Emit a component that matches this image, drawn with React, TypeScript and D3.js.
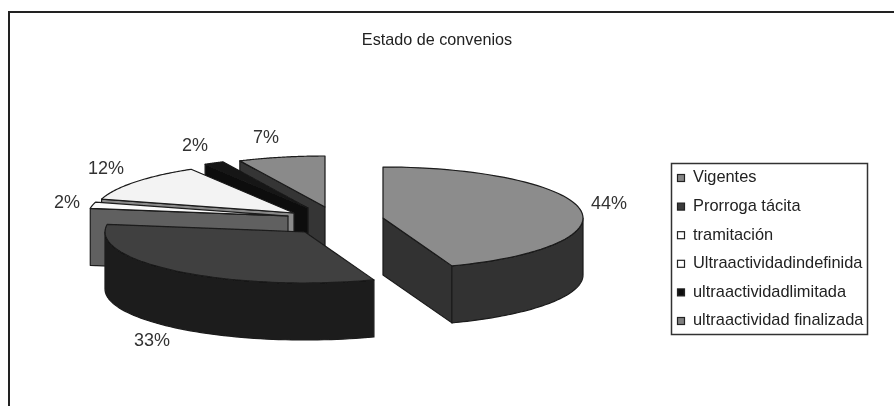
import React from "react";
import * as d3 from "d3";

const categories = ["Vigentes", "Prorroga tácita", "tramitación", "Ultraactividadindefinida", "ultraactividadlimitada", "ultraactividad finalizada"];
const values = [44.4, 33, 2, 12, 1.6, 7];
const pctLabels = ["44%", "33%", "2%", "12%", "2%", "7%"];
const topColors = ["#8c8c8c", "#404040", "#fafafa", "#f3f3f3", "#141414", "#8a8a8a"];
const wallColors = ["#333333", "#1c1c1c", "#606060", "#8a8a8a", "#0a0a0a", "#363636"];
const swatchColors = ["#858585", "#3a3a3a", "#ffffff", "#ffffff", "#111111", "#808080"];
// exploded slice centres
const centreX = [383, 305, 288, 294, 308, 325];
const centreY = [218, 232, 216, 213, 208, 207];
const labelX = [609, 152, 67, 106, 195, 266];
const labelY = [204, 341, 203, 169, 146, 138];

const W = 894, H = 406;
const RX = 200, RY = 51, DEPTH = 57;
const INK = "#1a1a1a";
const FONT = "'Liberation Sans', Arial, sans-serif";

const pie = d3.pie<number>().sort(null).startAngle(0).endAngle(2 * Math.PI);
const arcs = pie(values);

const pt = (i: number, a: number, drop = 0): [number, number] => [
  centreX[i] + RX * Math.sin(a),
  centreY[i] - RY * Math.cos(a) + drop,
];
const rimPts = (i: number, a0: number, a1: number, drop = 0) =>
  d3.range(0, 61).map((k) => pt(i, a0 + ((a1 - a0) * k) / 60, drop));
const line = d3.line<[number, number]>();

function Slice({ i }: { i: number }) {
  const { startAngle: s, endAngle: e } = arcs[i];
  const c: [number, number] = [centreX[i], centreY[i]];
  const cLow: [number, number] = [c[0], c[1] + DEPTH];
  const wall = (a: number) => line([c, pt(i, a), pt(i, a, DEPTH), cLow]) + "Z";
  const f0 = Math.max(s, Math.PI / 2);
  const f1 = Math.min(e, (3 * Math.PI) / 2);
  const common = { stroke: INK, strokeWidth: 1.2, strokeLinejoin: "round" as const };
  return (
    <g>
      {Math.sin(s) < -1e-6 && <path d={wall(s)} fill={wallColors[i]} {...common} />}
      {Math.sin(e) > 1e-6 && <path d={wall(e)} fill={wallColors[i]} {...common} />}
      {f1 > f0 && (
        <path
          d={line([...rimPts(i, f0, f1), ...rimPts(i, f1, f0, DEPTH)]) + "Z"}
          fill={wallColors[i]}
          {...common}
        />
      )}
      <path d={line([c, ...rimPts(i, s, e)]) + "Z"} fill={topColors[i]} {...common} />
    </g>
  );
}

export default function App() {
  const legendY = d3.scalePoint<string>().domain(categories).range([178, 321]);
  return (
    <svg width={W} height={H} style={{ position: "absolute", left: 0, top: 0, background: "#fff" }} fontFamily={FONT}>
      <defs>
        <filter id="soft" x="0" y="0" width="100%" height="100%">
          <feGaussianBlur stdDeviation="0.45" />
        </filter>
      </defs>
      <g filter="url(#soft)">
        <path d={`M8.5 406V11.5H894`} fill="none" stroke="#222" strokeWidth={3} />
        <text x={437} y={41} textAnchor="middle" dominantBaseline="middle" fontSize={16.2} fill="#222">Estado de convenios</text>
        {[5, 4, 3, 2, 1, 0].map((i) => <Slice key={i} i={i} />)}
        {pctLabels.map((t, i) => (
          <text key={t + i} x={labelX[i]} y={labelY[i]} textAnchor="middle" dominantBaseline="middle" fontSize={18} fill="#333">{t}</text>
        ))}
        <rect x={671.5} y={163.5} width={196} height={171} fill="#fff" stroke="#333" strokeWidth={1.5} />
        {categories.map((c, i) => (
          <g key={c}>
            <rect x={677.5} y={legendY(c)! - 3.5} width={7} height={7} fill={swatchColors[i]} stroke="#222" strokeWidth={1.2} />
            <text x={693} y={legendY(c)!} dominantBaseline="middle" fontSize={16.4} fill="#222">{c}</text>
          </g>
        ))}
      </g>
    </svg>
  );
}
